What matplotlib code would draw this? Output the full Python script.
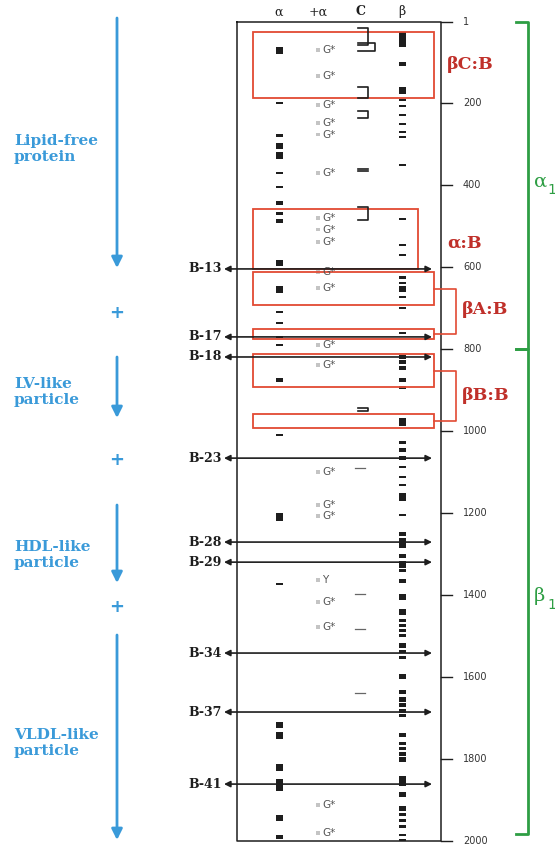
import matplotlib
matplotlib.use("Agg")
import matplotlib.pyplot as plt
from matplotlib.patches import Rectangle

# residue scale of the map (right axis)
TICKS = [1, 200, 400, 600, 800, 1000, 1200, 1400, 1600, 1800, 2000]

# alpha column: segments (start, end residue)
alpha_segs = [(62, 79), (196, 202), (275, 281), (296, 311), (318, 336), (367, 373),
              (401, 407), (439, 448), (464, 472), (483, 492), (582, 597), (646, 663),
              (706, 712), (733, 739), (767, 773), (787, 793), (870, 880), (1007, 1013),
              (1200, 1220), (1370, 1376), (1710, 1725), (1735, 1752), (1813, 1830),
              (1850, 1880), (1937, 1952), (1986, 1996)]

# beta column segments
beta_segs = [(25, 62), (99, 109), (160, 177), (189, 194), (204, 209), (226, 231),
             (248, 253), (267, 272), (280, 284), (348, 353), (480, 485), (543, 548),
             (568, 572), (621, 629), (636, 641), (646, 660), (670, 675), (697, 702),
             (758, 763), (814, 824), (827, 837), (840, 851), (870, 880), (890, 897),
             (968, 988), (1024, 1031), (1041, 1051), (1061, 1071), (1085, 1090),
             (1110, 1115), (1129, 1134), (1151, 1171), (1202, 1207), (1246, 1256),
             (1261, 1286), (1300, 1310), (1317, 1334), (1337, 1344), (1361, 1371),
             (1398, 1412), (1434, 1449), (1459, 1466), (1471, 1478), (1483, 1491),
             (1496, 1503), (1517, 1530), (1535, 1542), (1549, 1556), (1593, 1605),
             (1632, 1642), (1649, 1661), (1664, 1674), (1679, 1688), (1691, 1698),
             (1737, 1747), (1759, 1767), (1771, 1779), (1784, 1793), (1796, 1808),
             (1842, 1867), (1881, 1894), (1916, 1928), (1933, 1940), (1947, 1955),
             (1962, 1969), (1983, 1989), (1996, 2001)]

# C column: bracket pairs and single dashes
c_brackets = [(16, 57), (52, 72), (160, 187), (218, 235), (453, 485), (944, 951)]
c_bracket_wide = [False, True, False, False, False, False]
c_dashes = [360, 366]
c_dashes_light = [1090, 1398, 1483, 1640]

# +alpha column annotations
plus_alpha_res = [69, 133, 204, 248, 276, 370, 480, 508, 538, 612, 651, 790, 839,
                  1100, 1180, 1208, 1364, 1417, 1478, 1913, 1981]
plus_alpha_lab = ["G*"] * 16 + ["Y"] + ["G*"] * 4

# red boxed domains: (start, end) residue
box_segs = [(25, 187), (458, 604), (612, 692), (751, 775), (812, 893), (958, 993)]
box_labels = [("βC:B", 104), ("α:B", 541), ("βA:B", 704), ("βB:B", 914)]

# B-fragment boundaries
b_names = ["B-13", "B-17", "B-18", "B-23", "B-28", "B-29", "B-34", "B-37", "B-41"]
b_res = [604, 770, 819, 1066, 1271, 1320, 1542, 1686, 1862]

# green domain brackets
domains = [("\u03b1", 1, 800), ("\u03b2", 800, 1985)]


def ry(px):
    # figure pixel row -> residue coordinate
    return (px - 21.6) / 0.4095


fig = plt.figure(figsize=(5.55, 8.46), dpi=100)
ax = fig.add_axes([0, 0, 1, 1])
ax.set_xlim(0, 555)
ax.set_ylim(ry(846), ry(0))
ax.axis("off")

DARK = "#1e1e1e"
RED = "#e24a33"
RED_TXT = "#c0302a"
BLUE = "#3a9ad9"
GREEN = "#2e9e44"
SERIF = "DejaVu Serif"

# frame of the map
ax.plot([237, 441, 441, 237, 237], [ry(22.5), ry(22.5), 2000.5, 2000.5, ry(22.5)],
        color=DARK, lw=1.1)

# column headers
for x, t, w in [(279, "\u03b1", "normal"), (318, "+\u03b1", "normal"),
                (361, "C", "bold"), (402, "\u03b2", "normal")]:
    ax.text(x, ry(12), t, ha="center", va="center", fontsize=9, family=SERIF,
            fontweight=w, color=DARK)

# right residue axis
for t in TICKS:
    ax.plot([441, 452], [t, t], color=DARK, lw=1)
    ax.text(463, t, str(t), ha="left", va="center", fontsize=7, color="#333333",
            family="DejaVu Sans")

# alpha and beta marks
ax.bar([279] * len(alpha_segs), [e - s for s, e in alpha_segs],
       bottom=[s for s, e in alpha_segs], width=7, color=DARK, linewidth=0)
ax.bar([402] * len(beta_segs), [e - s for s, e in beta_segs],
       bottom=[s for s, e in beta_segs], width=7, color=DARK, linewidth=0)

# C column brackets
for (s, e), wide in zip(c_brackets, c_bracket_wide):
    x1 = 375 if wide else 368
    ax.plot([358, x1, x1, 358], [s, s, e, e], color=DARK, lw=1.2)
for r in c_dashes:
    ax.plot([358, 368], [r, r], color=DARK, lw=1.2)
for r in c_dashes_light:
    ax.plot([355, 365], [r, r], color="#666666", lw=0.9)

# +alpha annotations
ax.bar([318] * len(plus_alpha_res), [9] * len(plus_alpha_res),
       bottom=[r - 4.5 for r in plus_alpha_res], width=4, color="#c4c4c4", linewidth=0)
for r, lab in zip(plus_alpha_res, plus_alpha_lab):
    ax.text(322, r, lab, ha="left", va="center", fontsize=7.5, color="#555555",
            family="DejaVu Sans")

# red domain boxes and pair connectors
for i, (s, e) in enumerate(box_segs):
    x1 = 418 if i == 1 else 434
    ax.add_patch(Rectangle((253, s), x1 - 253, e - s, fill=False, edgecolor=RED, lw=1.3))
for (b1, b2), xc in [((2, 3), 456), ((4, 5), 456)]:
    m1 = (box_segs[b1][0] + box_segs[b1][1]) / 2
    m2 = (box_segs[b2][0] + box_segs[b2][1]) / 2
    ax.plot([434, xc, xc, 434], [m1, m1, m2, m2], color=RED, lw=1.2)
for (lab, r), x in zip(box_labels, [447, 447, 462, 462]):
    ax.text(x, r, lab, ha="left", va="center", fontsize=12.5, family=SERIF,
            fontweight="bold", color=RED_TXT)

# B-fragment double arrows
for name, r in zip(b_names, b_res):
    ax.annotate("", xy=(432, r), xytext=(224, r),
                arrowprops=dict(arrowstyle="<|-|>", color=DARK, lw=1.2,
                                mutation_scale=9, shrinkA=0, shrinkB=0))
    ax.text(222, r, name, ha="right", va="center", fontsize=9, family=SERIF,
            fontweight="bold", color=DARK)

# green domain brackets
for (g, s, e), (ly, sy) in zip(domains, [(182, 190), (596, 605)]):
    ax.plot([516, 528, 528, 516], [s, s, e, e], color=GREEN, lw=2)
    ax.text(534, ry(ly), g, ha="left", va="center", fontsize=14, family=SERIF,
            color=GREEN)
    ax.text(547, ry(sy), "1", ha="left", va="center", fontsize=10, family="DejaVu Sans",
            color=GREEN)

# left side: blue particle arrows
for y0, y1 in [(18, 268), (357, 418), (505, 583), (635, 840)]:
    ax.annotate("", xy=(117, ry(y1)), xytext=(117, ry(y0)),
                arrowprops=dict(arrowstyle="-|>", color=BLUE, lw=2,
                                mutation_scale=16, shrinkA=0, shrinkB=0))
for y in [313, 460, 607]:
    ax.text(117, ry(y), "+", ha="center", va="center", fontsize=13, fontweight="bold",
            color=BLUE, family="DejaVu Sans")
for lab, y in [("Lipid-free\nprotein", 149), ("LV-like\nparticle", 392),
               ("HDL-like\nparticle", 555), ("VLDL-like\nparticle", 743)]:
    ax.text(14, ry(y), lab, ha="left", va="center", fontsize=11, family=SERIF,
            fontweight="bold", color=BLUE, linespacing=1.1)

fig.savefig("out.png", dpi=100)
